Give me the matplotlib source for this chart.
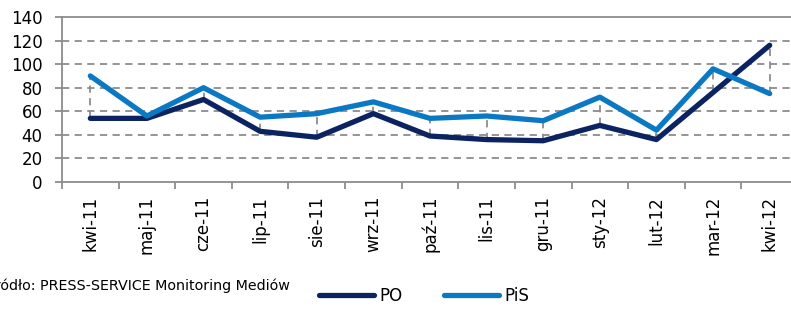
import numpy as np
import matplotlib.pyplot as plt

# Dane
miesiace = ['kwi-11', 'maj-11', 'cze-11', 'lip-11', 'sie-11', 'wrz-11', 'paź-11',
            'lis-11', 'gru-11', 'sty-12', 'lut-12', 'mar-12', 'kwi-12']
po = [54, 54, 70, 43, 38, 58, 39, 36, 35, 48, 36, 76, 116]
pis = [90, 56, 80, 55, 58, 68, 54, 56, 52, 72, 44, 96, 75]

kolor_po = '#0b2461'
kolor_pis = '#0b78c4'
szary = '#8c8c8c'

fig = plt.figure(figsize=(7.91, 3.09), dpi=100)
ax = fig.add_axes([62 / 791, (309 - 182) / 309, 736 / 791, 165 / 309])

x = np.arange(len(miesiace))

# linie siatki przerywane
for v in range(20, 140, 20):
    ax.axhline(v, color=szary, linestyle=(0, (4, 3)), linewidth=1.3, zorder=1)

# linie pionowe (high-low) pomiędzy seriami
ax.vlines(x, np.minimum(po, pis), np.maximum(po, pis), colors=szary,
          linestyles=(0, (4, 3)), linewidth=1.3, zorder=1)

ax.plot(x, po, color=kolor_po, linewidth=3.8, solid_capstyle='round', zorder=2, label='PO')
ax.plot(x, pis, color=kolor_pis, linewidth=3.8, solid_capstyle='round', zorder=3, label='PiS')

ax.set_xlim(-0.5, len(miesiace) - 0.5)
ax.set_ylim(0, 140)
ax.set_yticks(range(0, 141, 20))
ax.tick_params(axis='y', labelsize=12, length=5, width=1.3, color=szary, pad=9)

ax.set_xticks(x)
ax.set_xticklabels(miesiace, rotation=90, fontsize=12)
ax.set_xticks(np.arange(-0.5, len(miesiace), 1), minor=True)
ax.tick_params(axis='x', which='major', length=0, pad=10)
ax.tick_params(axis='x', which='minor', length=5, width=1.3, color=szary)

for s in ['left', 'bottom', 'top']:
    ax.spines[s].set_color(szary)
    ax.spines[s].set_linewidth(1.3)
ax.spines['right'].set_visible(False)

# źródło - w oryginale początek napisu jest ucięty przez lewą krawędź
fig.text(290 / 791, 1 - 285 / 309, 'Źródło: PRESS-SERVICE Monitoring Mediów',
         fontsize=10.3, ha='right', va='center')

fig.legend(loc='center', bbox_to_anchor=(424 / 791, 1 - 296 / 309), ncol=2,
           frameon=False, fontsize=12, handlelength=3.3, columnspacing=2.5,
           handletextpad=0.3)

fig.savefig('out.png', dpi=100)
